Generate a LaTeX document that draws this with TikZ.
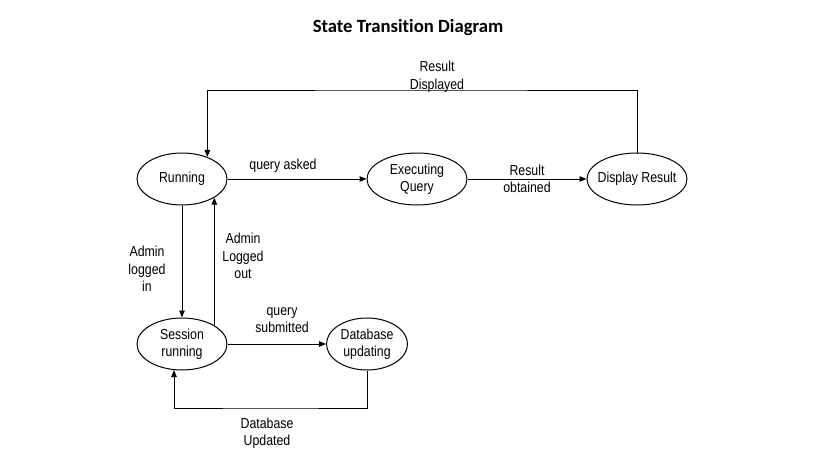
\documentclass[tikz,border=0pt]{standalone}
\usepackage{fontspec}
\setmainfont{Liberation Sans}[FakeStretch=0.85]
\newfontfamily\titlefont{Carlito}[Ligatures=NoCommon]
\usetikzlibrary{shapes.geometric,arrows.meta}
\begin{document}
\begin{tikzpicture}[x=1pt,y=-1pt,
  st/.style={ellipse, draw, line width=1pt, inner sep=0pt, minimum height=52pt},
  arr/.style={draw, line width=1pt, -{Triangle[length=7pt,width=5.5pt]}},
  lbl/.style={align=center, inner sep=0pt, font=\fontsize{14.5}{17.5}\selectfont},
  every label/.style={align=center, inner sep=0pt, font=\fontsize{14.5}{17.5}\selectfont}]
\useasboundingbox (0,0) rectangle (819,460);
\fill[white] (0,0) rectangle (819,460);
\node[anchor=base, inner sep=0pt, font=\titlefont\bfseries\fontsize{18.7}{22}\selectfont] (title) at (408,33) {State Transition Diagram};

\node[st, minimum width=90pt, label=center:Running] (run) at (182,179) {};
\node[st, minimum width=100pt, label={center:Executing\\Query}] (exe) at (417,179) {};
\node[st, minimum width=100pt, label={center:Display Result}] (disp) at (637,179) {};
\node[st, minimum width=90pt, label={center:Session\\running}] (ses) at (182,344) {};
\node[st, minimum width=81pt, label={center:Database\\updating}] (db) at (367,344) {};

\coordinate (top) at (420,90);
\coordinate (bot) at (270,408);

\draw[arr] (run) -- (exe);
\draw[arr] (exe) -- (disp);
\draw[arr] (disp.north) |- (top) -| (run.41);
\draw[arr] (run.south) -- (ses.north);
\draw[arr] (ses.30) -- (run.-30);
\draw[arr] (ses) -- (db);
\draw[arr] (db.south) |- (bot) -| (ses.-107);

\node[lbl] (l1) at (283,166) {query asked};
\node[lbl] (l2) at (527,179) {Result\\obtained};
\node[lbl] (l3) at (437,77) {Result\\Displayed};
\node[lbl] (l4) at (147,269) {Admin\\logged\\in};
\node[lbl] (l5) at (243,256) {Admin\\Logged\\out};
\node[lbl] (l6) at (282,320) {query\\submitted};
\node[lbl] (l7) at (267,433) {Database\\Updated};
\end{tikzpicture}
\end{document}
